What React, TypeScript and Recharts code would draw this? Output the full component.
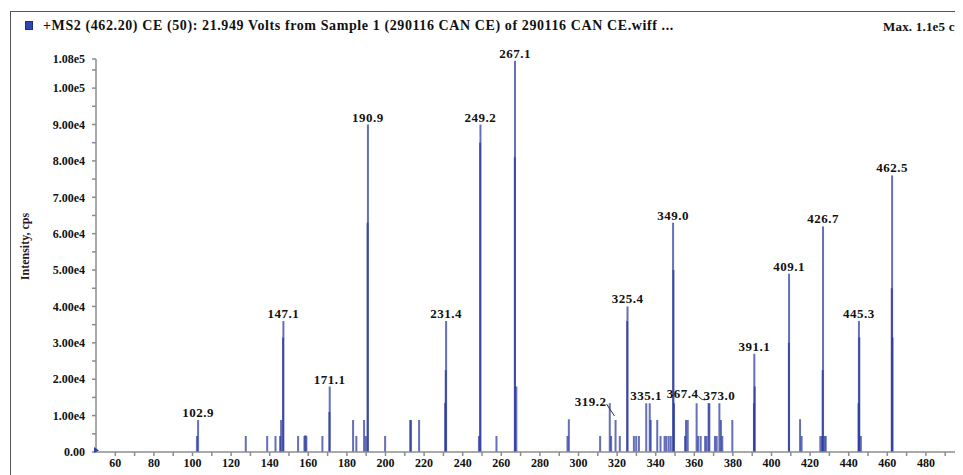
import React from 'react';
import { BarChart, Bar, XAxis, YAxis, LabelList } from 'recharts';

// ---- data (m/z, intensity in cps) ----
const mzValues = [
  102.3, 102.9, 127.6, 138.7, 143.0, 145.4, 145.9, 146.9, 147.1, 154.7,
  158.0, 158.5, 159.0, 167.3, 170.9, 171.1, 183.2, 184.9, 188.9, 189.8,
  190.7, 190.9, 199.8, 212.8, 213.2, 217.4, 230.9, 231.2, 231.4, 248.4,
  249.0, 249.2, 257.5, 267.0, 267.1, 267.8, 294.3, 295.0, 311.2, 316.2,
  316.9, 319.2, 321.4, 325.2, 325.4, 328.7, 329.9, 331.3, 335.1, 336.9,
  337.4, 340.8, 342.5, 344.6, 345.5, 346.7, 347.8, 349.0, 349.2, 349.5,
  355.2, 355.7, 356.6, 361.2, 362.0, 363.3, 365.6, 366.4, 367.4, 367.8,
  370.7, 371.6, 373.0, 373.8, 374.5, 379.7, 390.9, 391.1, 391.3, 409.0,
  409.1, 414.8, 415.6, 425.3, 426.2, 426.5, 426.7, 427.5, 428.1, 445.1,
  445.3, 445.5, 446.3, 462.3, 462.5, 462.7,
];
const intensityValues = [
  4400, 8800, 4400, 4400, 4400, 4400, 8800, 31500, 36000, 4400,
  4400, 4600, 4400, 4400, 11000, 18000, 8800, 4400, 8800, 4400,
  63000, 90000, 4400, 8800, 8800, 8800, 13500, 22500, 36000, 4400,
  85000, 90000, 4400, 81000, 107500, 18000, 4400, 9000, 4400, 13400,
  4400, 8800, 4400, 36000, 40000, 4400, 4400, 4400, 13400, 13400,
  8800, 8800, 4400, 4400, 4400, 4400, 4400, 63000, 50000, 13400,
  4400, 8800, 8800, 13400, 4400, 4400, 4400, 4400, 13400, 13400,
  4400, 4400, 13400, 8800, 4400, 8800, 13400, 27000, 18000, 30000,
  49000, 9000, 4400, 4400, 4400, 22500, 62000, 4400, 4400, 13400,
  36000, 31500, 4400, 45000, 76000, 31500,
];
const labeledPeaks = [
  '102.9', '147.1', '171.1', '190.9', '231.4', '249.2', '267.1', '319.2', '325.4',
  '335.1', '349.0', '367.4', '373.0', '391.1', '409.1', '426.7', '445.3', '462.5',
];
const xTicks = [
  60, 70, 80, 90, 100, 110, 120, 130, 140, 150, 160, 170, 180, 190, 200, 210, 220,
  230, 240, 250, 260, 270, 280, 290, 300, 310, 320, 330, 340, 350, 360, 370, 380,
  390, 400, 410, 420, 430, 440, 450, 460, 470, 480, 490, 500,
];
const yTicks = [
  0, 5000, 10000, 15000, 20000, 25000, 30000, 35000, 40000, 45000, 50000, 55000,
  60000, 65000, 70000, 75000, 80000, 85000, 90000, 95000, 100000, 105000, 108000,
];
const yMajorTicks = [0, 10000, 20000, 30000, 40000, 50000, 60000, 70000, 80000, 90000, 100000, 108000];
const xMajorTicks = [60, 80, 100, 120, 140, 160, 180, 200, 220, 240, 260, 280, 300, 320, 340, 360, 380, 400, 420, 440, 460, 480, 500];

const titleText = '+MS2 (462.20) CE (50): 21.949 Volts from Sample 1 (290116 CAN CE) of 290116 CAN CE.wiff ...';
const maxText = 'Max. 1.1e5 cps';
const yAxisTitle = 'Intensity, cps';

const data = mzValues.map((mz, i) => ({
  mz,
  intensity: intensityValues[i],
  label: labeledPeaks.includes(mz.toFixed(1)) ? mz.toFixed(1) : undefined,
}));

// label placement tweaks (layout only)
const labelNudge: Record<string, { dx: number; dy: number }> = {
  '319.2': { dx: -25, dy: -11 },
  '367.4': { dx: -26, dy: -2 },
};

const serif = '"Liberation Serif", "Times New Roman", serif';
const tickFont: React.CSSProperties = { fontFamily: serif, fontWeight: 700, fontSize: 12, fill: '#111' };
const peakFont: React.CSSProperties = { fontFamily: serif, fontWeight: 700, fontSize: 13, fill: '#111', letterSpacing: 0.5 };

const fmtY = (v: number) => {
  if (v === 0) return '0.00';
  const e = Math.floor(Math.log10(v));
  return (v / Math.pow(10, e)).toFixed(2) + 'e' + e;
};

const XTick = (props: any) => {
  const { x, y, payload } = props;
  if (!xMajorTicks.includes(payload.value)) return null;
  return (
    <text x={x} y={y} dy="0.71em" textAnchor="middle" style={tickFont}>
      {payload.value}
    </text>
  );
};

const YTick = (props: any) => {
  const { x, y, payload } = props;
  const v = payload.value;
  const ax = x + 11;
  return (
    <g>
      {yMajorTicks.includes(v) && (
        <text x={x} y={y} dy="0.355em" textAnchor="end" style={tickFont}>
          {fmtY(v)}
        </text>
      )}
      {v === 0 && <path d={`M ${ax - 2} ${y - 5} L ${ax + 3} ${y - 1.5} L ${ax - 2} ${y + 1} Z`} fill="#2e3fa5" />}
    </g>
  );
};

const PeakShape = (props: any) => {
  const { x, y, width, height } = props;
  if (height == null || !(height > 0)) return null;
  const cx = x + width / 2;
  return <rect x={cx - 1} y={y} width={2} height={height} fill="#2a399c" fillOpacity={0.72} />;
};

const PeakLabel = (props: any) => {
  const value = props.value;
  if (value == null || value === '') return null;
  const vb = props.viewBox && props.viewBox.width != null ? props.viewBox : props;
  const cx = vb.x + vb.width / 2;
  const top = vb.y;
  const n = labelNudge[value];
  const lx = cx + (n ? n.dx : 0);
  const ly = top - 3 + (n ? n.dy : 0);
  return (
    <g>
      <text x={lx} y={ly} textAnchor="middle" style={peakFont}>
        {value}
      </text>
      {n && (
        <path
          d={`M ${lx + 16} ${ly - 2} Q ${lx + 19} ${ly + 3} ${cx - 1} ${top - 4}`}
          stroke="#333"
          strokeWidth={1}
          fill="none"
        />
      )}
    </g>
  );
};

const headerStyle: React.CSSProperties = {
  position: 'absolute', top: 10, fontFamily: serif, fontWeight: 700,
  fontSize: 14, lineHeight: '15px', letterSpacing: 0.6, whiteSpace: 'nowrap', color: '#111',
};

export default function App() {
  return (
    <div style={{ position: 'relative', width: 955, height: 467, overflow: 'hidden', background: '#fff' }}>
      <div
        style={{
          position: 'absolute', left: 2, top: 3, width: 1200, height: 700,
          borderLeft: '1.5px solid #555', borderTop: '1.5px solid #555',
        }}
      />
      <div
        style={{
          position: 'absolute', left: 17, top: 13, width: 8, height: 9,
          background: '#3345ad', border: '1px solid #1f2d80', boxSizing: 'border-box',
        }}
      />
      <div style={{ ...headerStyle, left: 35 }}>{titleText}</div>
      <div style={{ ...headerStyle, left: 875, fontSize: 13, letterSpacing: 0.2, top: 11 }}>{maxText}</div>
      <div style={{ position: 'absolute', left: 0, top: 0 }}>
        <BarChart
          width={980}
          height={480}
          data={data}
          margin={{ top: 51, right: 23.5, bottom: 6, left: 0 }}
        >
          <XAxis
            dataKey="mz"
            type="number"
            domain={[50, 500]}
            ticks={xTicks}
            interval={0}
            tick={<XTick />}
            tickSize={4}
            tickMargin={2}
            stroke="#8c8c8c"
            strokeWidth={1.5}
            height={30}
            allowDataOverflow
          />
          <YAxis
            type="number"
            domain={[0, 108000]}
            ticks={yTicks}
            interval={0}
            tick={<YTick />}
            tickSize={4}
            tickMargin={7}
            width={88}
            stroke="#8c8c8c"
            strokeWidth={1.5}
            allowDataOverflow
            label={{
              value: yAxisTitle,
              content: (p: any) => {
                const vb = p.viewBox;
                const cx = vb.x + 17;
                const cy = vb.y + vb.height / 2 - 9;
                return (
                  <text
                    x={cx}
                    y={cy}
                    transform={`rotate(-90, ${cx}, ${cy})`}
                    textAnchor="middle"
                    dominantBaseline="central"
                    style={{ fontFamily: serif, fontWeight: 700, fontSize: 12, fill: '#2a1626' }}
                  >
                    {yAxisTitle}
                  </text>
                );
              },
            }}
          />
          <Bar dataKey="intensity" shape={<PeakShape />} isAnimationActive={false}>
            <LabelList dataKey="label" content={<PeakLabel />} />
          </Bar>
        </BarChart>
      </div>
    </div>
  );
}
